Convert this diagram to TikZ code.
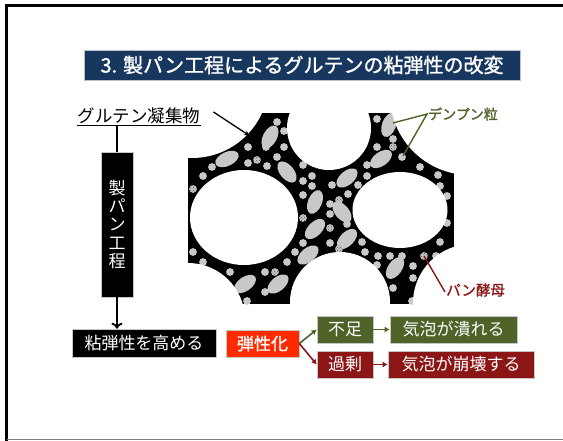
\documentclass[tikz,border=0pt]{standalone}
\usepackage{fontspec}
\newfontfamily\jp{Noto Sans CJK JP}
\newfontfamily\jpb[FakeBold=1.2]{Noto Sans CJK JP}
\usetikzlibrary{arrows.meta,patterns}
\definecolor{titleblue}{RGB}{23,55,94}
\definecolor{leaf}{RGB}{79,98,40}
\definecolor{maroon}{RGB}{140,22,22}
\definecolor{flame}{RGB}{255,42,0}
\definecolor{grain}{RGB}{200,200,200}
\tikzset{
  box/.style={draw=gray!45, line width=0.6pt, text=white, inner sep=0pt,
    font=\jp\fontsize{17}{17}\selectfont},
  grainfill/.style={fill=grain},
  yeastfill/.style={fill=grain, postaction={pattern=crosshatch dots, pattern color=gray!60!black}},
  colarrow/.style={line width=1.6pt, -{Latex[length=5pt,width=6pt]}},
  pointer/.style={line width=1.4pt},
}
% starch granules (round and oval) and yeast cells
\newcommand\grainat[2]{\fill[grainfill] (#1,#2) circle (3.9pt);}
\newcommand\yeastat[2]{\fill[yeastfill] (#1,#2) circle (3.9pt);}
\newcommand\ovalat[3]{\fill[grainfill, shift={(#1,#2)}, rotate=#3] (0,0) ellipse [x radius=12.5pt, y radius=7pt];}
\begin{document}
\begin{tikzpicture}[x=1pt,y=-1pt]
\useasboundingbox (0,0) rectangle (563,441);

% slide frame
\draw[line width=2.5pt] (6.5,441) -- (6.5,5.5) -- (563,5.5);
\draw[gray, line width=1.5pt] (6.5,439.5) -- (563,439.5);

% title bar
\node[fill=titleblue, draw=gray!50, line width=0.6pt, minimum width=436pt, minimum height=30pt,
  inner sep=0pt, text=white, font=\jpb\fontsize{20}{20}\selectfont] (title) at (302,65)
  {3. 製パン工程によるグルテンの粘弾性の改変};

% gluten network: black matrix with gas cells cut out
\begin{scope}
  \clip (188,113) rectangle (454,304);
  \fill[black] (188,113) rectangle (454,304);
  % top-left lobe
  \grainat{277}{122} \grainat{284}{131} \ovalat{270}{137}{62}
  \grainat{248}{147} \grainat{266}{147} \grainat{284}{147}
  \grainat{277}{157} \yeastat{257}{160} \grainat{248}{163} \grainat{267}{166}
  \ovalat{227}{159}{25} \grainat{212}{167} \grainat{203}{176} \yeastat{193}{189}
  \ovalat{287}{172}{-50}
  % neck between the cells
  \grainat{303}{165} \grainat{312}{176} \grainat{303}{181} \grainat{312}{186}
  \grainat{303}{195} \ovalat{315}{202}{68} \yeastat{303}{218} \ovalat{315}{229}{45}
  \grainat{303}{243} \ovalat{308}{255}{40} \grainat{295}{252} \grainat{287}{262}
  % centre
  \ovalat{347}{178}{40} \grainat{332}{185} \grainat{358}{185} \grainat{348}{194}
  \grainat{330}{204} \yeastat{339}{200} \ovalat{342}{212}{-50} \grainat{330}{214}
  \yeastat{330}{228} \grainat{347}{224} \ovalat{347}{239}{45} \grainat{330}{243}
  \yeastat{339}{249} \grainat{362}{242} \grainat{365}{252}
  % top-right lobe
  \grainat{377}{119} \ovalat{389}{125}{70} \grainat{393}{139} \yeastat{393}{147}
  \grainat{377}{147} \ovalat{381}{159}{35} \grainat{402}{157}
  \grainat{367}{165} \grainat{367}{176} \grainat{420}{167} \grainat{438}{175}
  \grainat{440}{186} \grainat{447}{196} \grainat{447}{223} \grainat{440}{242}
  % bottom-left lobe
  \grainat{193}{252} \grainat{203}{262} \grainat{230}{272} \grainat{265}{272}
  \yeastat{275}{272} \ovalat{245}{284}{35} \ovalat{278}{284}{40}
  \grainat{265}{292} \grainat{247}{301}
  % bottom-right lobe
  \grainat{378}{256} \grainat{390}{256} \grainat{402}{256} \yeastat{424}{256}
  \grainat{436}{256} \grainat{377}{265} \ovalat{395}{268}{55} \grainat{413}{266}
  \grainat{413}{278} \grainat{393}{288} \grainat{412}{301}
  % cut-outs: notches along the border and the two gas cells
  \fill[white] (192,81) circle (77pt);
  \fill[white] (329,128) circle (42pt);
  \fill[white] (470,95) circle (80pt);
  \fill[white] (472,303) circle (59pt);
  \fill[white] (340,302) circle (50pt);
  \fill[white] (188,320) circle (57pt);
  \fill[white] (244,217.5) ellipse [x radius=54pt, y radius=47.5pt];
  \fill[white] (400,210) ellipse [x radius=47.5pt, y radius=38pt];
\end{scope}

% left column
\node[inner sep=1pt, font=\jp\fontsize{17.5}{17.5}\selectfont] (glu) at (139,116) {グルテン凝集物};
\draw[line width=1pt] (glu.south west) -- (glu.south east);
\coordinate (gluin) at (250,136);
\draw[line width=1.3pt, -{Stealth[length=6pt,width=5pt]}] ([xshift=12pt,yshift=4pt]glu.east) -- (gluin);

\node[box, fill=black, minimum width=32pt, minimum height=145pt, align=center,
  font=\jp\fontsize{17}{18.3}\selectfont] (bake) at (117,224.5) {製\\パ\\ン\\工\\程};
\draw[line width=1.8pt] (glu.south -| bake.north) -- (bake.north);

\node[box, fill=black, minimum width=144pt, minimum height=28pt] (high) at (144,343) {粘弾性を高める};
\draw[line width=1.8pt, -{To[length=6pt,width=11pt]}] (bake.south) -- (bake.south |- high.north);

% elasticity outcomes
\node[box, fill=flame, minimum width=73pt, minimum height=27pt, font=\jpb\fontsize{17}{17}\selectfont] (elas) at (262.5,343.5) {弾性化};
\node[box, fill=leaf, minimum width=56pt, minimum height=27pt] (less) at (345,329.5) {不足};
\node[box, fill=leaf, minimum width=127pt, minimum height=27pt] (crush) at (453.5,329.5) {気泡が潰れる};
\node[box, fill=maroon, minimum width=56pt, minimum height=27pt] (over) at (345,364.5) {過剰};
\node[box, fill=maroon, minimum width=146pt, minimum height=27pt] (burst) at (461,364.5) {気泡が崩壊する};

\draw[colarrow, leaf] (elas.east) -- (less.west);
\draw[colarrow, maroon] (elas.east) -- (over.west);
\draw[colarrow, leaf] (less.east) -- (crush.west);
\draw[colarrow, maroon] (over.east) -- (burst.west);

% callouts on the network
\node[anchor=west, inner sep=1pt, text=leaf, font=\jpb\fontsize{14}{14}\selectfont] (starch) at (427,114) {デンプン粒};
\coordinate (sa) at (393,123);
\coordinate (sb) at (403,156);
\draw[pointer, leaf] (sa) -- (starch.west) -- (sb);

\node[anchor=west, inner sep=1pt, text=maroon, font=\jpb\fontsize{14.5}{14.5}\selectfont] (yeast) at (445,290) {パン酵母};
\coordinate (ya) at (424,256);
\draw[pointer, maroon] (ya) -- ([yshift=-2pt]yeast.west);
\end{tikzpicture}
\end{document}
